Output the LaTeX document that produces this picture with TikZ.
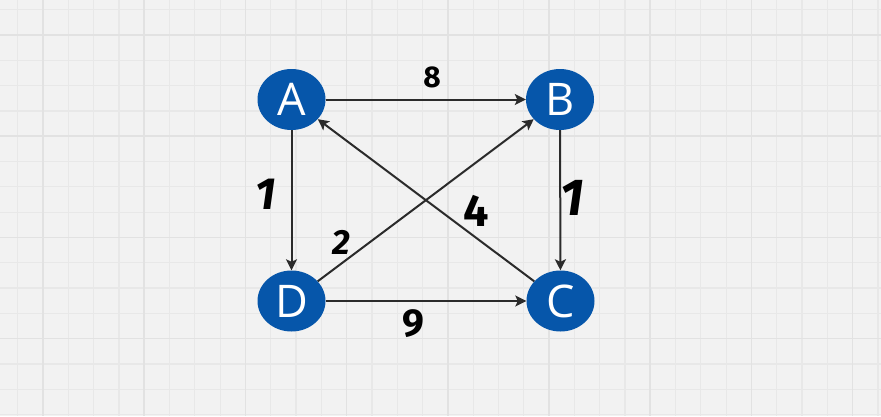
\documentclass[tikz,border=0pt]{standalone}
\usepackage{fontspec}
\setmainfont{Open Sans}
\newfontfamily\handfont{Fira Sans}
\usetikzlibrary{arrows.meta,shapes.geometric}
\definecolor{bgc}{HTML}{F2F2F2}
\definecolor{minorc}{HTML}{E8E8E8}
\definecolor{majorc}{HTML}{E2E2E2}
\definecolor{nodec}{RGB}{6,86,170}
\definecolor{edgec}{HTML}{2B2B2B}
\begin{document}
\begin{tikzpicture}[x=1pt,y=-1pt,
  minor/.style={draw=minorc,line width=1.2pt},
  major/.style={draw=majorc,line width=1.5pt},
  vert/.style={ellipse,fill=nodec,text=white,minimum width=68pt,minimum height=61pt,inner sep=0pt,font=\fontsize{45}{45}\selectfont},
  edge/.style={draw=edgec,line width=2pt,-{Stealth[length=11pt,width=11pt,inset=2.5pt]}},
  wlabel/.style={text=black,inner sep=0pt,font=\handfont\bfseries\itshape}]
\fill[bgc] (0,0) rectangle (881,416);
\useasboundingbox (0,0) rectangle (881,416);
\foreach \i in {0,...,35} {
  \pgfmathsetmacro\xx{17.7+25.3*\i}
  \draw[minor] (\xx,0) -- (\xx,416);
}
\foreach \i in {0,...,16} {
  \pgfmathsetmacro\yy{9.7+25.3*\i}
  \draw[minor] (0,\yy) -- (881,\yy);
}
\foreach \i in {1,5,...,33} {
  \pgfmathsetmacro\xx{17.7+25.3*\i}
  \draw[major] (\xx,0) -- (\xx,416);
}
\foreach \i in {1,5,...,13} {
  \pgfmathsetmacro\yy{9.7+25.3*\i}
  \draw[major] (0,\yy) -- (881,\yy);
}
\node[vert] (A) at (291.5,99.5) {A};
\node[vert] (B) at (560,99.5) {B};
\node[vert] (D) at (291.5,301) {D};
\node[vert] (C) at (560.5,301) {C};
\draw[edge] (A) -- (B);
\draw[edge] (A) -- (D);
\draw[edge] (B) -- (C);
\draw[edge] (D) -- (C);
\draw[edge] (D) -- (B);
\draw[edge] (C) -- (A);
\node[wlabel,font=\handfont\bfseries\fontsize{30}{30}\selectfont] (l8) at (432,77) {8};
\node[wlabel,font=\handfont\bfseries\itshape\fontsize{45}{45}\selectfont] (l1a) at (266,194) {1};
\node[wlabel,font=\handfont\bfseries\itshape\fontsize{35}{35}\selectfont] (l2) at (341,242) {2};
\node[wlabel,font=\handfont\bfseries\fontsize{45}{45}\selectfont] (l4) at (476,211) {4};
\node[wlabel,font=\handfont\bfseries\itshape\fontsize{52}{52}\selectfont] (l1b) at (572,198) {1};
\node[wlabel,font=\handfont\bfseries\fontsize{39}{39}\selectfont] (l9) at (413.5,324) {9};
\end{tikzpicture}
\end{document}
